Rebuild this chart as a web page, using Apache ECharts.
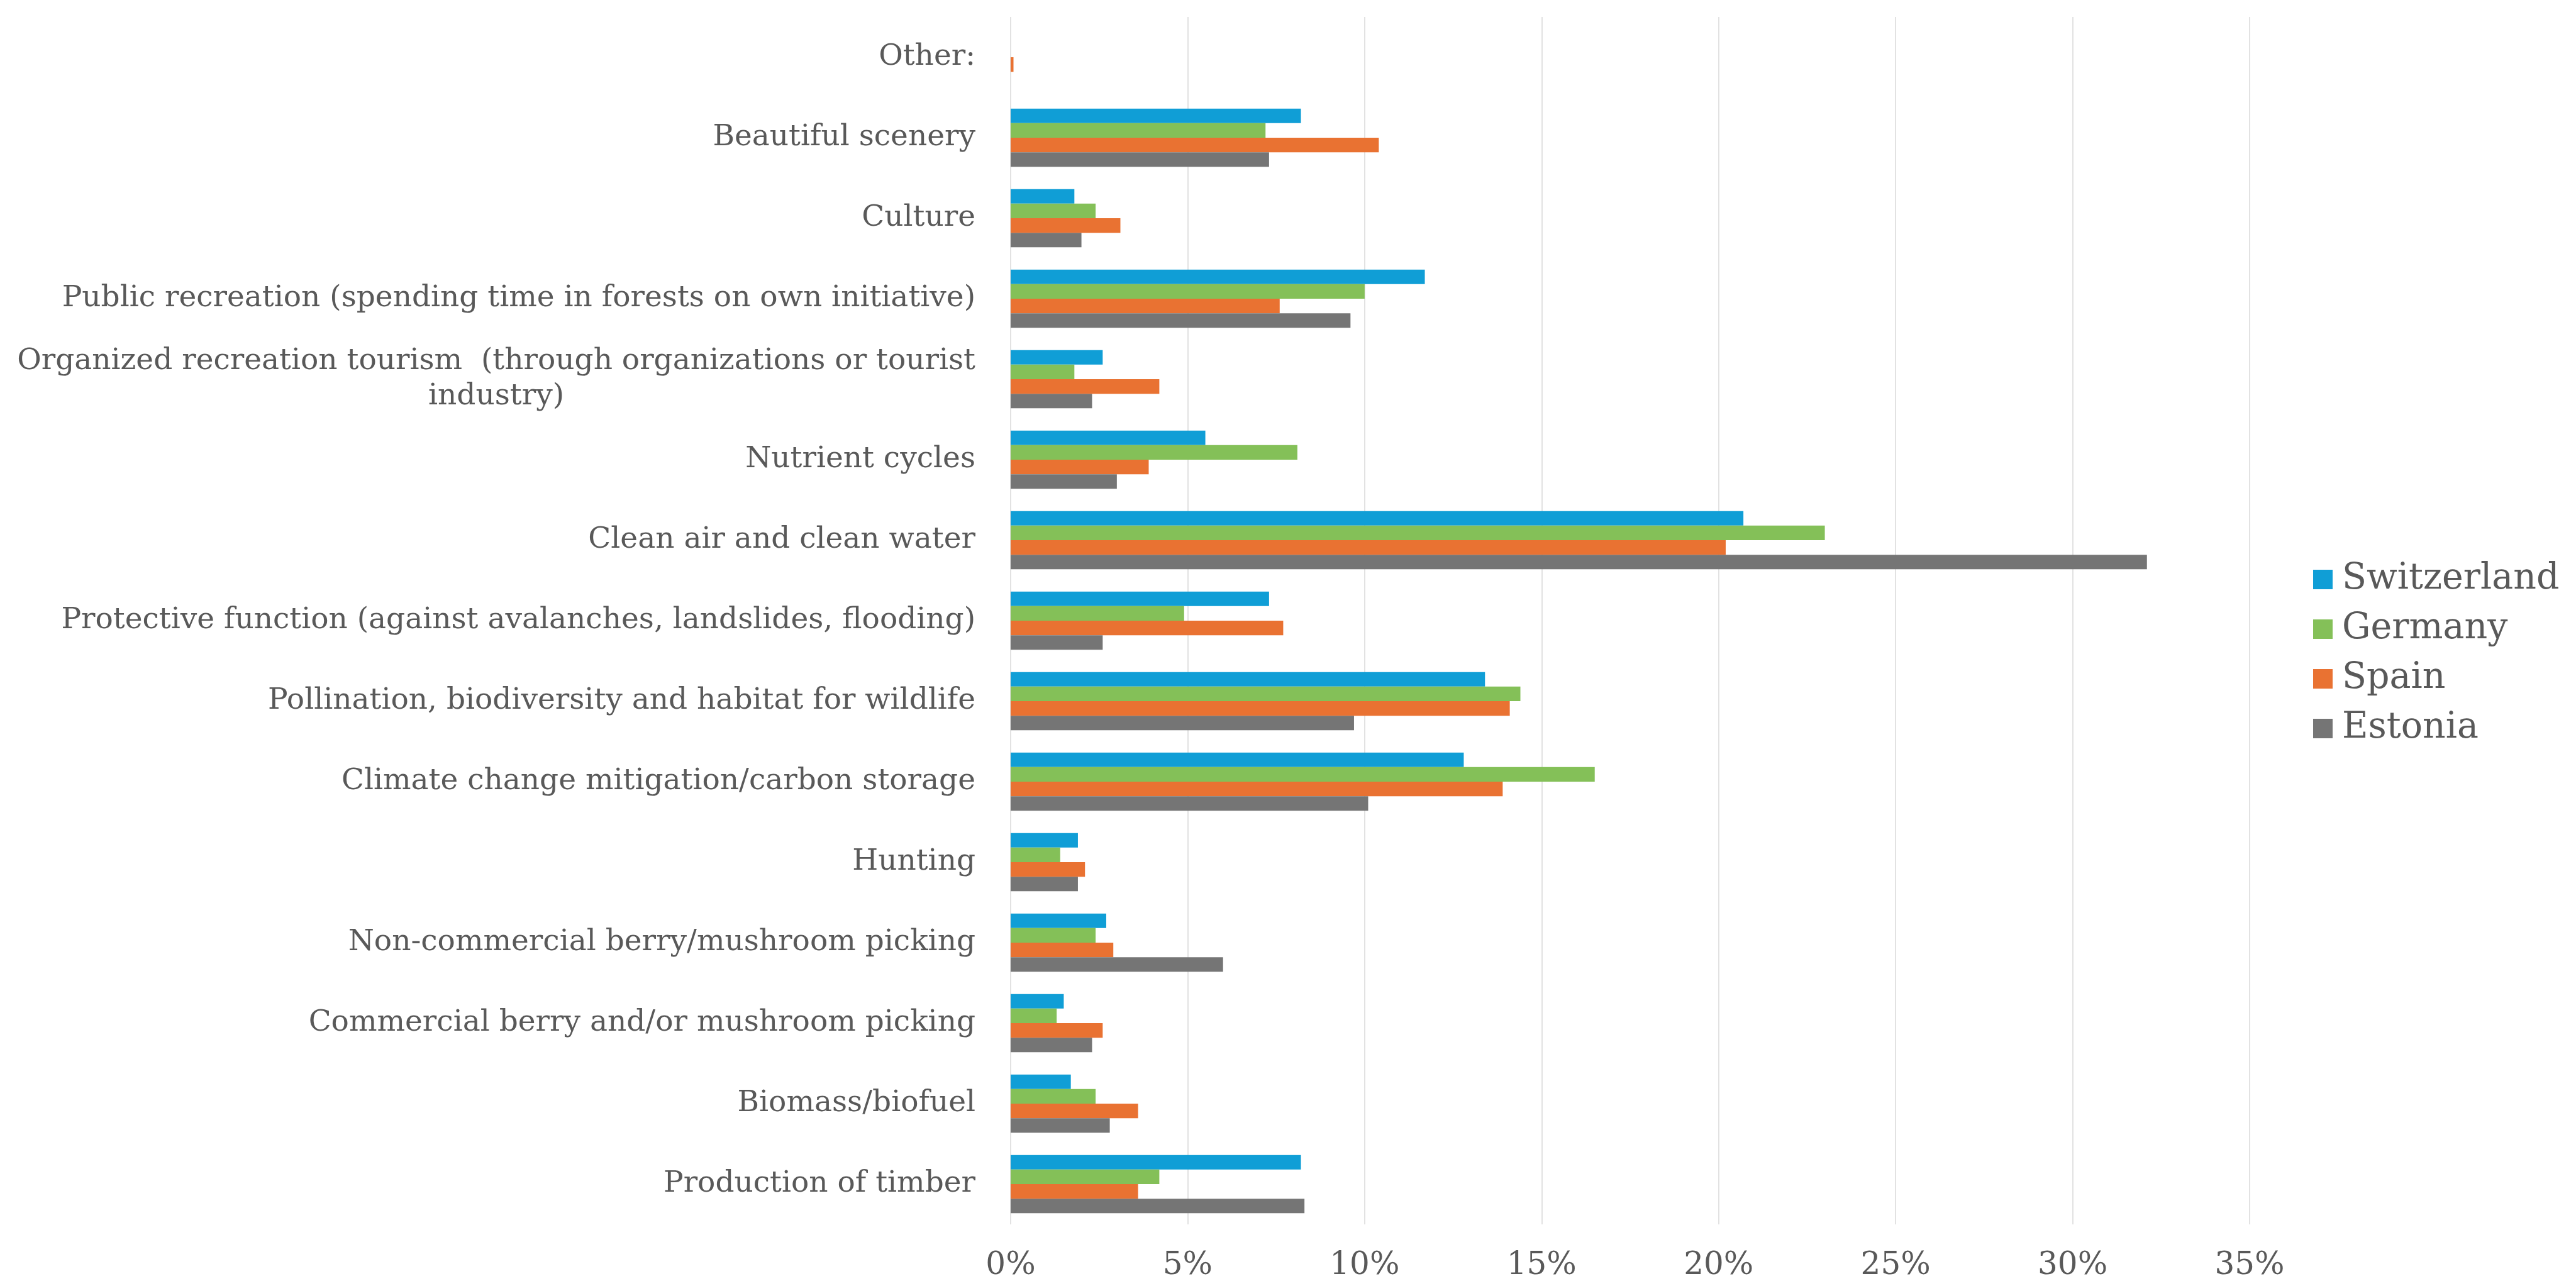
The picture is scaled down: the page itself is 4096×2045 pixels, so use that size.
<!DOCTYPE html>
<html>
<head>
<meta charset="utf-8">
<script src="https://cdn.jsdelivr.net/npm/echarts@6/dist/echarts.min.js"></script>
<style>
  html, body { margin: 0; padding: 0; background: #fff; }
  #chart { width: 4096px; height: 2045px; }
</style>
</head>
<body>
<div id="chart"></div>
<script>
// categories from bottom to top (ECharts puts the first one at the bottom)
const categories = [
  'Production of timber',
  'Biomass/biofuel',
  'Commercial berry and/or mushroom picking',
  'Non-commercial berry/mushroom picking',
  'Hunting',
  'Climate change mitigation/carbon storage',
  'Pollination, biodiversity and habitat for wildlife',
  'Protective function (against avalanches, landslides, flooding)',
  'Clean air and clean water',
  'Nutrient cycles',
  'Organized recreation tourism  (through organizations or tourist\nindustry)',
  'Public recreation (spending time in forests on own initiative)',
  'Culture',
  'Beautiful scenery',
  'Other:'
]

const switzerland = [8.2, 1.7, 1.5, 2.7, 1.9, 12.8, 13.4, 7.3, 20.7, 5.5, 2.6, 11.7, 1.8, 8.2, 0]
const germany = [4.2, 2.4, 1.3, 2.4, 1.4, 16.5, 14.4, 4.9, 23.0, 8.1, 1.8, 10.0, 2.4, 7.2, 0]
const spain = [3.6, 3.6, 2.6, 2.9, 2.1, 13.9, 14.1, 7.7, 20.2, 3.9, 4.2, 7.6, 3.1, 10.4, 0.08]
const estonia = [8.3, 2.8, 2.3, 6.0, 1.9, 10.1, 9.7, 2.6, 32.1, 3.0, 2.3, 9.6, 2.0, 7.3, 0]

const countries = ['Switzerland', 'Germany', 'Spain', 'Estonia']
const colors = ['#109ED6', '#84C058', '#E97232', '#757575']

const font = 'DejaVu Serif'
const textColor = '#595959'

const chart = echarts.init(document.getElementById('chart'))

function makeSeries(name, data, color) {
  return {
    name: name,
    type: 'bar',
    data: data,
    barGap: '0%',
    barCategoryGap: '27.6%',
    itemStyle: { color: color },
    animation: false
  }
}

const options = {
  backgroundColor: '#fff',
  color: colors,
  grid: {
    left: 1607,
    right: 519,
    top: 27,
    bottom: 98,
    containLabel: false
  },
  legend: {
    orient: 'vertical',
    left: 3673,
    top: 888,
    icon: 'rect',
    itemWidth: 31,
    itemHeight: 31,
    itemGap: 22,
    data: countries,
    textStyle: {
      fontFamily: font,
      fontSize: 57,
      color: textColor,
      padding: [0, 0, 0, 10]
    }
  },
  xAxis: {
    type: 'value',
    min: 0,
    max: 35,
    interval: 5,
    axisLine: { show: false },
    axisTick: { show: false },
    splitLine: { lineStyle: { color: '#D9D9D9', width: 1.5 } },
    axisLabel: {
      formatter: '{value}%',
      fontFamily: font,
      fontSize: 50,
      color: textColor,
      margin: 41
    }
  },
  yAxis: {
    type: 'category',
    data: categories,
    axisLine: { show: false },
    axisTick: { show: false },
    axisLabel: {
      margin: 56,
      formatter: function (value) {
        return value.split('\n').map(function (line) { return '{c|' + line + '}' }).join('\n')
      },
      rich: {
        c: {
          fontFamily: font,
          fontSize: 47,
          color: textColor,
          align: 'center',
          lineHeight: 56
        }
      }
    }
  },
  series: [
    makeSeries(countries[0], switzerland, colors[0]),
    makeSeries(countries[1], germany, colors[1]),
    makeSeries(countries[2], spain, colors[2]),
    makeSeries(countries[3], estonia, colors[3])
  ]
}

options && chart.setOption(options)
</script>
</body>
</html>
